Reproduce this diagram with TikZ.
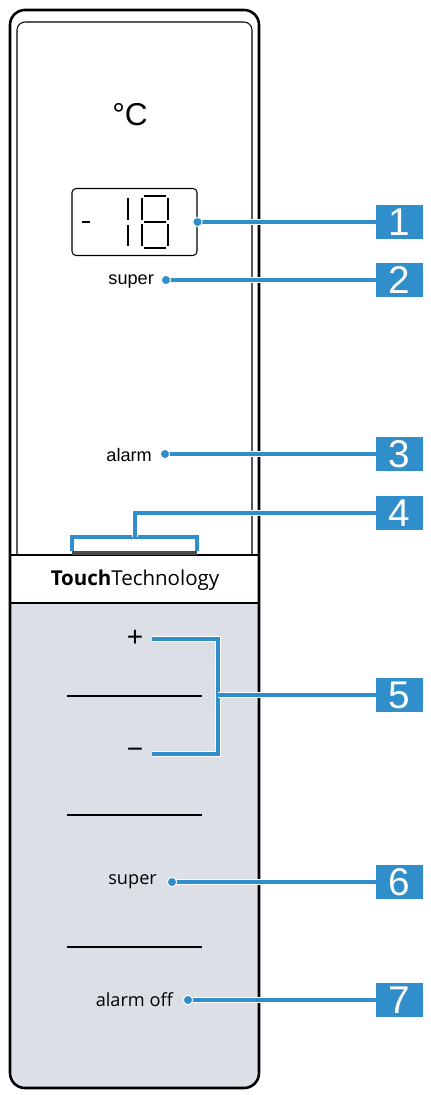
\documentclass[tikz,border=0pt]{standalone}
\usepackage{fontspec}
\setmainfont{Liberation Sans}
\newfontfamily\bandfont{Open Sans}
\usepackage{tikz}

\definecolor{calloutblue}{RGB}{48,142,202}
\definecolor{panelgrey}{RGB}{220,223,230}

\tikzset{
  numbox/.style={fill=calloutblue, text=white, inner sep=0pt,
    minimum width=1.41cm, minimum height=1.02cm, font=\fontsize{33}{33}\selectfont},
  lead/.style={draw=white, line width=1.1pt, double=calloutblue, double distance=3.2pt},
  seg/.style={line width=1.6pt},
  sepline/.style={line width=1.7pt},
}

\begin{document}
\begin{tikzpicture}[x=0.03cm, y=-0.03cm]

  \useasboundingbox (0,0) rectangle (431,1095);

  \begin{scope}
    \clip (0,603) rectangle (431,1095);
    \fill[panelgrey, rounded corners=0.45cm] (10,10) rectangle (259,1088); %PANEL
  \end{scope}
  \draw[line width=2.2pt, rounded corners=0.45cm] (10,10) rectangle (259,1088); %OUTER
  \draw[line width=0.9pt, rounded corners=0.24cm] (17,555) -- (17,22) -- (252,22) -- (252,555); %INNER
  \draw[line width=2.2pt] (10,555) -- (259,555); %BAND-TOP
  \draw[line width=2.2pt] (10,603) -- (259,603); %BAND-BOTTOM
  \draw[line width=2.6pt, gray!60!black] (72,553) -- (197,553); %STRIP

  \node (deg) at (130,115) {\fontsize{27}{27}\selectfont °C};
  \node[draw, line width=0.9pt, rounded corners=0.12cm, minimum width=3.75cm, minimum height=2.01cm] (disp) at (134.5,222) {};

  % - 18
  \draw[seg] (82,222) -- (90,222);
  \draw[seg] (128,198) -- (128,220) (128,225) -- (128,246);
  \draw[seg] (144,196) -- (166,196) (144,222) -- (166,222) (144,248) -- (166,248);
  \draw[seg] (142,198) -- (142,220) (168,198) -- (168,220);
  \draw[seg] (142,224) -- (142,246) (168,224) -- (168,246);

  \node[anchor=east, font=\fontsize{15.5}{15.5}\selectfont] (supertop) at (158,281) {super};
  \node[anchor=east, font=\fontsize{15.5}{15.5}\selectfont] (alarmtop) at (156,455) {alarm};
  \node[font=\bandfont\fontsize{17.5}{17.5}\selectfont] (brand) at (135,580) {\textbf{Touch}Technology};

  \node[font=\fontsize{24}{24}\selectfont] (plus) at (135,638) {+};
  \node[font=\fontsize{24}{24}\selectfont] (minus) at (135,753) {−};
  \draw[sepline] (67,696) -- (202,696);
  \draw[sepline] (67,815) -- (202,815);
  \draw[sepline] (67,947) -- (202,947);
  \node[anchor=east, font=\bandfont\fontsize{15.5}{15.5}\selectfont] (superbot) at (161,882) {super};
  \node[anchor=east, font=\bandfont\fontsize{15.5}{15.5}\selectfont] (alarmoff) at (177,1000) {alarm off};

  \node[numbox] (n1) at (399.5,222) {1};
  \node[numbox] (n2) at (399.5,280) {2};
  \node[numbox] (n3) at (399.5,454) {3};
  \node[numbox] (n4) at (399.5,513) {4};
  \node[numbox] (n5) at (399.5,695) {5};
  \node[numbox] (n6) at (399.5,882) {6};
  \node[numbox] (n7) at (399.5,1000) {7};

  \coordinate (d1) at (disp.east);
  \coordinate (d2) at (166,280);
  \coordinate (d3) at (165,454);
  \coordinate (d6) at (172,882);
  \coordinate (d7) at (188,1000);

  \draw[lead] (d1) -- (n1.west);
  \draw[lead] (d2) -- (n2.west);
  \draw[lead] (d3) -- (n3.west);
  \draw[lead] (72,551) -- (72,537) -- (197,537) -- (197,551); %T-4
  \draw[lead] (135,537) -- (135,513) -- (n4.west);
  \draw[lead] (152,639) -- (218,639) -- (218,754) -- (152,754); %T-5
  \draw[lead] (218,695) -- (n5.west);
  \draw[lead] (d6) -- (n6.west);
  \draw[lead] (d7) -- (n7.west);

  \foreach \d in {d1,d2,d3,d6,d7}
    \filldraw[fill=calloutblue, draw=white, line width=0.8pt] (\d) circle (0.14cm);

\end{tikzpicture}
\end{document}
